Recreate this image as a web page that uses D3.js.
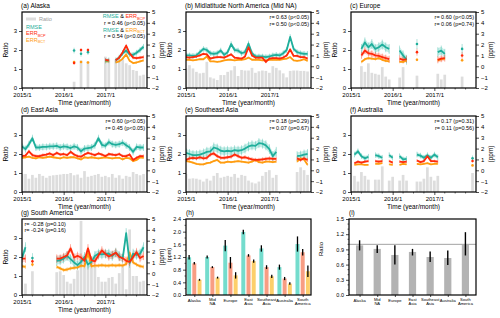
<!DOCTYPE html>
<html><head><meta charset="utf-8">
<script src="https://cdn.jsdelivr.net/npm/d3@7"></script>
<style>
body{margin:0;background:#fff;}
svg{display:block;font-family:"Liberation Sans",Arial,sans-serif;}
</style></head><body>
<svg id="c" width="500" height="318"></svg>
<script>
const N = null;
// ---------- shared labels ----------
const monthTicks = [0, 12, 24];
const monthTickLabels = ["2015/1", "2016/1", "2017/1"];
const ratioTicks = [0, 1, 2, 3];
const ppmTicks = [-2, -1, 0, 1, 2, 3, 4, 5];
const panelTitles = ["(a) Alaska", "(b) Midlatitude North America (Mid NA)", "(c) Europe", "(d) East Asia", "(e) Southeast Asia", "(f) Australia", "(g) South America"];
const corrBCP = ["r = 0.46 (p<0.05)", "r= 0.63 (p<0.05)", "r= 0.60 (p<0.05)", "r= 0.60 (p<0.05)", "r= 0.18 (p=0.29)", "r= 0.17 (p=0.31)", "r= -0.28 (p=0.10)"];
const corrBCT = ["r = 0.54 (p<0.05)", "r= 0.50 (p<0.05)", "r= 0.06 (p=0.74)", "r= 0.45 (p<0.05)", "r= 0.07 (p=0.67)", "r= 0.11 (p=0.56)", "r= -0.24 (p=0.16)"];
// estimated half-width of shaded uncertainty per panel
const rmseSpread = [0.2, 0.2, 0.35, 0.25, 0.35, 0.2, 0.35];
const bcpSpread = [0.12, 0.1, 0.25, 0.12, 0.15, 0.1, 0.3];
const bctSpread = [0.08, 0.06, 0.1, 0.08, 0.08, 0.05, 0.15];

// ---------- (a) Alaska ----------
const alaskaRatio = [N,N,N,N,N,N,N,N,N,N,N,N,N,N,N,0.33,N,1.45,N,1.4,N,N,N,N,1.65,1.5,N,1.5,1.45,1.5,1.3,1.2,0.95,0.9,0.65,0.7];
const alaskaRMSE  = [N,N,N,N,N,N,N,N,N,N,N,N,N,N,N,1.45,N,1.15,N,1.3,N,N,N,N,0.5,0.55,N,0.55,0.8,1.2,1.45,1.1,1.05,1.25,1.5,1.8];
const alaskaBCP   = [N,N,N,N,N,N,N,N,N,N,N,N,N,N,N,0.3,N,1.5,N,1.5,N,N,N,N,0.6,0.55,N,0.55,0.8,1.3,1.9,1.2,0.8,0.75,0.8,0.85];
const alaskaBCT   = [N,N,N,N,N,N,N,N,N,N,N,N,N,N,N,0.4,N,0.4,N,0.35,N,N,N,N,0.45,0.45,N,0.35,0.45,0.7,1.1,0.5,0.3,0.35,0.45,0.55];
// ---------- (b) Mid NA ----------
const midnaRatio = [1.03,1.2,1.03,0.85,0.77,0.8,1.38,0.56,0.5,0.42,0.68,0.68,0.85,0.93,1.15,0.63,0.95,0.92,0.92,1.06,0.8,0.88,0.92,0.9,0.8,1.15,1.06,0.93,0.77,0.56,0.9,0.92,0.92,0.9,0.9,0.87];
const midnaRMSE  = [1.0,1.0,0.95,1.0,1.3,1.6,1.5,1.2,1.15,1.2,1.45,1.05,1.3,2.05,1.5,1.45,1.2,1.3,2.1,1.2,0.9,0.9,0.9,0.85,0.9,1.0,1.05,1.0,1.2,1.5,2.7,1.6,1.3,1.2,1.15,1.15];
const midnaBCP   = [0.85,0.8,0.85,0.9,1.0,1.15,1.1,0.7,0.8,0.85,0.85,0.8,0.95,1.1,0.8,0.75,0.7,0.9,1.75,1.0,0.8,0.8,0.8,0.4,0.7,0.75,0.75,0.7,0.8,1.0,1.55,0.95,0.95,0.85,0.85,0.7];
const midnaBCT   = [0.6,0.6,0.55,0.6,0.65,0.65,0.9,0.45,0.45,0.4,0.45,0.55,0.6,0.6,0.55,0.6,0.6,0.65,0.8,0.6,0.6,0.6,0.55,0.55,0.6,0.6,0.6,0.6,0.65,0.7,0.85,0.55,0.5,0.55,0.65,0.5];
// ---------- (c) Europe ----------
const europeRatio = [N,N,N,1.15,0.85,1.3,0.8,0.75,0.7,1.1,0.6,0.45,N,N,0.55,1.1,N,N,N,0.65,N,N,N,N,N,0.75,0.45,0.7,N,N,N,N,0.6,N,N,N];
const europeRMSE  = [N,N,N,1.6,2.2,1.75,2.05,1.6,1.75,2.0,1.75,1.6,N,N,1.45,1.0,0.6,N,N,2.05,N,N,N,N,N,1.3,1.45,1.15,N,N,N,N,1.6,N,N,N];
const europeBCP   = [N,N,N,1.0,1.45,1.2,1.15,1.0,0.95,0.85,0.75,0.65,N,N,0.7,0.6,0.65,N,N,1.3,N,N,N,N,N,0.6,0.7,0.75,N,N,N,N,1.0,N,N,N];
const europeBCT   = [N,N,N,0.4,0.65,0.75,0.7,0.65,0.75,0.6,0.5,0.45,N,N,0.4,0.4,0.55,N,N,0.6,N,N,N,N,N,0.55,0.65,0.7,N,N,N,N,0.55,N,N,N];
// ---------- (d) East Asia ----------
const eastAsiaRatio = [0.95,0.95,0.7,0.9,0.75,0.95,0.85,0.75,0.85,0.88,0.9,0.92,0.95,0.95,1.0,0.88,0.92,0.75,1.1,0.8,0.85,0.9,0.95,0.8,0.85,0.78,0.95,0.75,0.88,0.7,0.85,0.8,1.05,0.95,0.88,0.95];
const eastAsiaRMSE  = [2.2,1.95,2.4,2.95,2.1,2.1,2.15,2.15,2.2,2.2,2.25,2.1,2.2,2.15,2.05,2.2,2.1,1.75,2.0,2.05,2.1,2.3,2.95,2.35,2.25,2.6,2.4,2.35,2.4,2.55,2.3,2.1,1.7,2.15,2.1,2.1];
const eastAsiaBCP   = [1.3,1.35,1.75,1.4,1.3,1.3,1.4,1.45,1.55,1.4,1.6,1.45,1.5,1.4,1.7,1.45,1.3,1.25,1.45,1.6,1.5,1.4,1.55,1.45,1.3,1.5,1.45,1.4,1.5,1.3,1.3,1.45,0.95,1.15,1.3,1.3];
const eastAsiaBCT   = [1.15,1.2,1.25,1.15,1.1,1.2,1.15,1.2,1.25,1.2,1.15,1.1,1.2,1.15,1.2,1.2,1.1,1.0,1.2,1.15,1.2,1.15,1.1,1.15,1.2,1.15,1.1,1.15,1.15,1.0,1.15,1.1,0.85,0.95,1.2,1.15];
// ---------- (e) Southeast Asia ----------
const seAsiaRatio = [0.95,0.7,0.72,0.7,0.65,0.55,0.7,0.6,0.85,1.0,0.75,0.8,0.85,0.8,0.95,0.75,0.9,0.85,0.6,0.5,0.45,0.55,0.85,1.05,1.15,0.75,0.9,N,N,N,N,N,1.05,1.3,1.15,0.9];
const seAsiaRMSE  = [1.6,1.5,1.4,1.4,1.45,1.55,1.7,1.75,2.1,2.0,1.8,1.75,1.8,1.75,1.85,1.8,1.85,2.0,2.2,2.3,2.25,2.5,2.45,2.3,1.95,1.3,1.7,N,N,N,N,N,1.3,1.35,1.45,1.5];
const seAsiaBCP   = [0.95,1.1,1.15,1.1,1.2,1.1,1.15,1.45,1.55,1.3,1.15,1.15,1.2,1.25,1.45,1.3,1.15,1.2,1.1,1.0,0.95,0.95,1.0,1.05,1.1,1.05,1.05,N,N,N,N,N,1.1,0.95,1.1,0.95];
const seAsiaBCT   = [0.85,0.8,0.7,0.6,0.55,0.55,0.65,0.7,0.85,0.95,0.7,0.7,0.8,0.75,0.8,0.85,0.8,0.75,0.7,0.8,0.95,0.75,0.7,0.8,0.8,0.75,0.8,N,N,N,N,N,0.8,1.1,1.0,0.5];
// ---------- (f) Australia ----------
const australiaRatio = [N,0.85,0.55,1.05,0.85,0.65,N,0.65,0.65,1.35,N,0.6,0.8,N,0.6,0.9,0.6,N,N,0.55,0.55,0.7,1.3,0.8,0.6,0.85,N,N,N,N,N,N,N,N,N,1.0];
const australiaRMSE  = [N,1.45,1.75,1.3,1.1,1.25,N,1.4,1.3,1.15,N,1.4,1.15,N,1.3,1.0,1.05,N,N,1.45,1.35,1.15,1.4,1.15,1.45,1.2,N,N,N,N,N,N,N,N,N,1.1];
const australiaBCP   = [N,0.65,0.8,0.7,0.8,0.85,N,0.85,0.8,0.85,N,0.85,0.7,N,0.8,0.75,0.8,N,N,0.9,0.75,0.85,1.3,0.85,0.85,0.8,N,N,N,N,N,N,N,N,N,0.85];
const australiaBCT   = [N,0.5,0.55,0.55,0.5,0.5,N,0.6,0.6,0.65,N,0.55,0.5,N,0.5,0.6,0.55,N,N,0.6,0.55,0.6,0.65,0.55,0.6,0.6,N,N,N,N,N,N,N,N,N,0.45];
// ---------- (g) South America ----------
const sAmericaRatio = [N,0.6,N,1.25,N,N,N,N,N,N,1.2,1.25,1.05,0.7,0.6,0.85,1.3,3.9,1.7,1.55,1.9,1.5,0.95,0.7,0.7,0.9,0.95,0.6,1.15,1.6,0.3,3.45,1.0,1.0,0.7,0.75];
const sAmericaRMSE  = [1.4,2.4,N,1.4,N,N,N,N,N,N,1.15,1.2,1.35,1.6,1.3,1.0,0.75,1.05,1.5,0.8,1.05,1.6,1.8,1.75,1.8,1.8,1.6,1.9,1.6,1.35,3.7,0.95,1.8,1.7,1.8,2.4];
const sAmericaBCP   = [1.35,1.35,N,1.1,N,N,N,N,N,N,1.35,1.35,1.5,1.65,2.3,1.45,1.6,1.45,1.15,2.3,1.2,1.1,1.65,2.1,1.8,1.55,1.7,1.9,1.5,1.4,1.15,1.05,1.5,1.95,1.4,1.6];
const sAmericaBCT   = [0.65,0.6,N,0.8,N,N,N,N,N,N,0.6,0.45,0.3,0.35,0.45,0.5,0.55,0.7,0.65,1.85,0.65,0.7,0.7,0.75,0.7,0.7,0.75,0.7,0.75,0.7,0.85,1.9,1.0,0.8,0.65,0.6];

// ---------- (h) & (i) ----------
const regions = ["Alaska", "Mid NA", "Europe", "East Asia", "Southeast Asia", "Australia", "South America"];
const rmseMean = [1.19, 1.2, 1.56, 1.99, 1.47, 0.88, 1.61];
const rmseErr  = [0.07, 0.05, 0.18, 0.07, 0.1, 0.08, 0.24];
const bcpMean  = [1.0, 0.88, 1.02, 1.25, 0.88, 0.52, 1.35];
const bcpErr   = [0.04, 0.03, 0.18, 0.04, 0.06, 0.05, 0.1];
const bctMean  = [0.48, 0.55, 0.62, 1.07, 0.59, 0.36, 0.75];
const bctErr   = [0.03, 0.03, 0.1, 0.05, 0.05, 0.04, 0.18];
const hTicks = [0, 0.4, 0.8, 1.2, 1.6, 2.0, 2.4];
const ratioMean = [0.98, 0.91, 0.79, 0.85, 0.75, 0.73, 0.99];
const ratioLow  = [0.88, 0.83, 0.6, 0.78, 0.65, 0.59, 0.78];
const ratioHigh = [1.08, 0.98, 0.98, 0.91, 0.86, 0.88, 1.24];
const iTicks = [0, 0.3, 0.6, 0.9, 1.2, 1.5];

// ---------- layout ----------
const svg = d3.select("#c");
const FONT = "Liberation Sans, Arial, sans-serif";
const W = 125, H = 76;
const colX = [22, 186, 351], rowY = [12, 116, 219];
const months = d3.range(36);
const C = {rmse: "#1fae9b", bcp: "#ff2a0a", bct: "#ff9c10"};
const CB = {rmse: "#7fd9cc", bcp: "#ff9d8f", bct: "#ffd080"};

const panels = [
  {ratio: alaskaRatio, rmse: alaskaRMSE, bcp: alaskaBCP, bct: alaskaBCT, col: 0, row: 0},
  {ratio: midnaRatio, rmse: midnaRMSE, bcp: midnaBCP, bct: midnaBCT, col: 1, row: 0},
  {ratio: europeRatio, rmse: europeRMSE, bcp: europeBCP, bct: europeBCT, col: 2, row: 0},
  {ratio: eastAsiaRatio, rmse: eastAsiaRMSE, bcp: eastAsiaBCP, bct: eastAsiaBCT, col: 0, row: 1},
  {ratio: seAsiaRatio, rmse: seAsiaRMSE, bcp: seAsiaBCP, bct: seAsiaBCT, col: 1, row: 1},
  {ratio: australiaRatio, rmse: australiaRMSE, bcp: australiaBCP, bct: australiaBCT, col: 2, row: 1},
  {ratio: sAmericaRatio, rmse: sAmericaRMSE, bcp: sAmericaBCP, bct: sAmericaBCT, col: 0, row: 2}
];

function styleAxis(sel, fs) {
  sel.select(".domain").remove();
  sel.attr("font-family", FONT);
  sel.selectAll(".tick line").attr("stroke", "#000").attr("stroke-width", 0.7);
  sel.selectAll(".tick text").attr("font-size", fs).attr("fill", "#000");
}

function text(x, y, s, opt = {}) {
  const t = svg.append("text").attr("x", x).attr("y", y).attr("font-size", opt.fs || 6)
    .attr("fill", opt.fill || "#000").attr("text-anchor", opt.anchor || "start").attr("font-family", FONT).text(s);
  if (opt.rot) t.attr("transform", `rotate(${opt.rot},${x},${y})`);
  return t;
}

function errText(x, y, sub, color, fs, anchor) {
  const t = svg.append("text").attr("x", x).attr("y", y).attr("font-size", fs).attr("fill", color)
    .attr("font-family", FONT).attr("text-anchor", anchor || "start");
  t.append("tspan").text("ERR");
  t.append("tspan").attr("font-size", fs * 0.7).attr("dy", 1.5).text(sub);
  return t;
}

panels.forEach((p, i) => {
  const x0 = colX[p.col], y0 = rowY[p.row];
  const x = d3.scaleLinear().domain([0, 36]).range([x0, x0 + W]);
  const yL = d3.scaleLinear().domain([0, 4]).range([y0 + H, y0]);
  const yR = d3.scaleLinear().domain([-2, 5]).range([y0 + H, y0]);
  const cid = "clip" + i;
  svg.append("clipPath").attr("id", cid).append("rect").attr("x", x0).attr("y", y0).attr("width", W).attr("height", H);
  const g = svg.append("g").attr("clip-path", `url(#${cid})`);

  // ratio bars
  g.selectAll("rect.bar").data(months.filter(m => p.ratio[m] != null)).join("rect")
    .attr("x", m => x(m) - 1.35).attr("width", 2.7)
    .attr("y", m => yL(p.ratio[m])).attr("height", m => yL(0) - yL(p.ratio[m]))
    .attr("fill", "#dddddd");

  const spreads = {rmse: rmseSpread[i], bcp: bcpSpread[i], bct: bctSpread[i]};
  const keys = ["bct", "rmse", "bcp"];
  // bands
  keys.forEach(k => {
    const arr = p[k], s = spreads[k];
    const area = d3.area().defined(m => arr[m] != null).x(m => x(m))
      .y0(m => yR(arr[m] - s)).y1(m => yR(arr[m] + s));
    g.append("path").datum(months).attr("d", area).attr("fill", CB[k]).attr("opacity", 0.45);
  });
  // error bars
  keys.forEach(k => {
    const arr = p[k], s = spreads[k] * 1.3;
    g.selectAll(null).data(months.filter(m => arr[m] != null)).join("line")
      .attr("x1", m => x(m)).attr("x2", m => x(m))
      .attr("y1", m => yR(arr[m] - s)).attr("y2", m => yR(arr[m] + s))
      .attr("stroke", C[k]).attr("stroke-width", 0.6).attr("opacity", 0.6);
  });
  // lines + isolated markers
  keys.forEach(k => {
    const arr = p[k];
    const line = d3.line().defined(m => arr[m] != null).x(m => x(m)).y(m => yR(arr[m]));
    g.append("path").datum(months).attr("d", line).attr("fill", "none")
      .attr("stroke", C[k]).attr("stroke-width", 1.8).attr("stroke-linejoin", "round");
    const iso = months.filter(m => arr[m] != null && (m === 0 || arr[m - 1] == null) && (m === 35 || arr[m + 1] == null));
    g.selectAll(null).data(iso).join("circle").attr("cx", m => x(m)).attr("cy", m => yR(arr[m]))
      .attr("r", 1.3).attr("fill", C[k]);
  });

  // axes
  const ax = svg.append("g").attr("transform", `translate(${x0},0)`)
    .call(d3.axisLeft(yL).tickValues(ratioTicks).tickSize(3).tickPadding(2).tickFormat(d3.format("d")));
  styleAxis(ax, 6);
  const ar = svg.append("g").attr("transform", `translate(${x0 + W},0)`)
    .call(d3.axisRight(yR).tickValues(ppmTicks).tickSize(3).tickPadding(2).tickFormat(d3.format("d")));
  styleAxis(ar, 6);
  const ab = svg.append("g").attr("transform", `translate(0,${y0 + H})`)
    .call(d3.axisBottom(x).tickValues(monthTicks).tickSize(3).tickPadding(2).tickFormat((d, j) => monthTickLabels[j]));
  styleAxis(ab, 6);
  // minor month ticks
  svg.append("g").selectAll("line").data(d3.range(0, 36, 3).filter(m => m % 12 !== 0)).join("line")
    .attr("x1", m => x(m)).attr("x2", m => x(m)).attr("y1", y0 + H).attr("y2", y0 + H + 1.5)
    .attr("stroke", "#000").attr("stroke-width", 0.6);
  // frame
  svg.append("rect").attr("x", x0).attr("y", y0).attr("width", W).attr("height", H)
    .attr("fill", "none").attr("stroke", "#000").attr("stroke-width", 1.2);

  // labels
  text(x0 - 1, y0 - 4, panelTitles[i], {fs: 6.5});
  text(x0 + W / 2, y0 + H + 17, "Time (year/month)", {fs: 6.5, anchor: "middle"});
  text(x0 - 14, y0 + H / 2, "Ratio", {fs: 6.5, anchor: "middle", rot: -90});
  text(x0 + W + 17, y0 + H / 2, "(ppm)", {fs: 6.5, anchor: "middle", rot: -90});

  if (i === 0) {
    // legend of panel (a)
    svg.append("rect").attr("x", x0 + 4).attr("y", y0 + 5.5).attr("width", 10).attr("height", 3).attr("fill", "#dddddd");
    text(x0 + 17, y0 + 9, "Ratio", {fs: 5.5, fill: "#9a9a9a"});
    text(x0 + 4, y0 + 16.5, "RMSE", {fs: 5.5, fill: C.rmse});
    errText(x0 + 4, y0 + 23, "BCP", C.bcp, 5.5);
    errText(x0 + 4, y0 + 29.5, "BCT", C.bct, 5.5);
    // right block
    const t1 = svg.append("text").attr("x", x0 + W - 2).attr("y", y0 + 6).attr("font-size", 5.5)
      .attr("text-anchor", "end").attr("font-family", FONT);
    t1.append("tspan").attr("fill", C.rmse).text("RMSE");
    t1.append("tspan").attr("fill", "#000").text(" & ");
    t1.append("tspan").attr("fill", C.bcp).text("ERR");
    t1.append("tspan").attr("fill", C.bcp).attr("font-size", 3.9).attr("dy", 1.5).text("BCP");
    text(x0 + W - 2, y0 + 13, corrBCP[i], {fs: 5.5, anchor: "end"});
    const t2 = svg.append("text").attr("x", x0 + W - 2).attr("y", y0 + 19.5).attr("font-size", 5.5)
      .attr("text-anchor", "end").attr("font-family", FONT);
    t2.append("tspan").attr("fill", C.rmse).text("RMSE");
    t2.append("tspan").attr("fill", "#000").text(" & ");
    t2.append("tspan").attr("fill", C.bct).text("ERR");
    t2.append("tspan").attr("fill", C.bct).attr("font-size", 3.9).attr("dy", 1.5).text("BCT");
    text(x0 + W - 2, y0 + 26, corrBCT[i], {fs: 5.5, anchor: "end"});
  } else if (i === 6) {
    text(x0 + 2.5, y0 + 7, corrBCP[i], {fs: 5.5});
    text(x0 + 2.5, y0 + 12.5, corrBCT[i], {fs: 5.5});
  } else {
    text(x0 + W - 2, y0 + 7, corrBCP[i], {fs: 5.5, anchor: "end"});
    text(x0 + W - 2, y0 + 13.5, corrBCT[i], {fs: 5.5, anchor: "end"});
  }
});

function groupLabels(x, yBase, fs) {
  regions.forEach(r => {
    const parts = r.split(" ");
    if (parts.length === 1) text(x(r), yBase + 6.5, r, {fs: fs, anchor: "middle"});
    else parts.forEach((s, k) => text(x(r), yBase + 5.5 + k * 4.6, s, {fs: fs, anchor: "middle"}));
  });
}

// ---------- panel (h) ----------
(function () {
  const x0 = 186, y0 = 219, w = 125;
  const x = d3.scalePoint().domain(regions).range([x0, x0 + w]).padding(0.46);
  const y = d3.scaleLinear().domain([0, 2.4]).range([y0 + H, y0]);
  const sets = [
    {mean: rmseMean, err: rmseErr, color: "#74dccd", off: -5.2},
    {mean: bcpMean, err: bcpErr, color: "#f89d83", off: 0},
    {mean: bctMean, err: bctErr, color: "#fdcf6b", off: 5.2}
  ];
  sets.forEach(s => {
    svg.append("g").selectAll("rect").data(regions).join("rect")
      .attr("x", (d, j) => x(d) + s.off - 2).attr("width", 4)
      .attr("y", (d, j) => y(s.mean[j])).attr("height", (d, j) => y(0) - y(s.mean[j]))
      .attr("fill", s.color);
  });
  sets.forEach(s => {
    svg.append("g").selectAll("line").data(regions).join("line")
      .attr("x1", d => x(d) + s.off).attr("x2", d => x(d) + s.off)
      .attr("y1", (d, j) => y(s.mean[j] - s.err[j])).attr("y2", (d, j) => y(s.mean[j] + s.err[j]))
      .attr("stroke", "#000").attr("stroke-width", 1.3);
  });
  const ay = svg.append("g").attr("transform", `translate(${x0},0)`)
    .call(d3.axisLeft(y).tickValues(hTicks).tickSize(3).tickPadding(2).tickFormat(d3.format(".1f")));
  styleAxis(ay, 5.5);
  svg.append("g").selectAll("line").data(d3.range(0.2, 2.4, 0.4)).join("line")
    .attr("x1", x0).attr("x2", x0 - 1.5).attr("y1", d => y(d)).attr("y2", d => y(d))
    .attr("stroke", "#000").attr("stroke-width", 0.6);
  const axb = svg.append("g").attr("transform", `translate(0,${y0 + H})`)
    .call(d3.axisBottom(x).tickSize(2).tickFormat(""));
  styleAxis(axb, 5);
  groupLabels(x, y0 + H, 4.3);
  svg.append("rect").attr("x", x0).attr("y", y0).attr("width", w).attr("height", H)
    .attr("fill", "none").attr("stroke", "#000").attr("stroke-width", 1.2);
  text(x0, y0 - 4, "(h)", {fs: 6.5});
  text(x0 - 15, y0 + H / 2 - 2, "(ppm)", {fs: 5.5, anchor: "middle", rot: -90});
})();

// ---------- panel (i) ----------
(function () {
  const x0 = 349, y0 = 219, w = 127;
  const x = d3.scalePoint().domain(regions).range([x0, x0 + w]).padding(0.6);
  const y = d3.scaleLinear().domain([0, 1.5]).range([y0 + H, y0]);
  svg.append("g").selectAll("rect").data(regions).join("rect")
    .attr("x", d => x(d) - 3.6).attr("width", 7.2)
    .attr("y", (d, j) => y(ratioMean[j])).attr("height", (d, j) => y(0) - y(ratioMean[j]))
    .attr("fill", "#b3b3b3");
  svg.append("line").attr("x1", x0).attr("x2", x0 + w).attr("y1", y(1)).attr("y2", y(1))
    .attr("stroke", "#8a8a8a").attr("stroke-width", 0.8);
  svg.append("g").selectAll("line").data(regions).join("line")
    .attr("x1", d => x(d)).attr("x2", d => x(d))
    .attr("y1", (d, j) => y(ratioLow[j])).attr("y2", (d, j) => y(ratioHigh[j]))
    .attr("stroke", "#000").attr("stroke-width", 1.4);
  const ay = svg.append("g").attr("transform", `translate(${x0},0)`)
    .call(d3.axisLeft(y).tickValues(iTicks).tickSize(3).tickPadding(2).tickFormat(d3.format(".1f")));
  styleAxis(ay, 5.5);
  svg.append("g").selectAll("line").data(d3.range(0.1, 1.5, 0.1).filter(v => Math.abs(v / 0.3 - Math.round(v / 0.3)) > 0.01)).join("line")
    .attr("x1", x0).attr("x2", x0 - 1.5).attr("y1", d => y(d)).attr("y2", d => y(d))
    .attr("stroke", "#000").attr("stroke-width", 0.6);
  const axb = svg.append("g").attr("transform", `translate(0,${y0 + H})`)
    .call(d3.axisBottom(x).tickSize(2).tickFormat(""));
  styleAxis(axb, 5);
  groupLabels(x, y0 + H, 4.1);
  svg.append("rect").attr("x", x0).attr("y", y0).attr("width", w).attr("height", H)
    .attr("fill", "none").attr("stroke", "#000").attr("stroke-width", 1.2);
  text(x0, y0 - 4, "(i)", {fs: 6.5});
  text(x0 - 26, y0 + H / 2 - 8, "Ratio", {fs: 6, anchor: "middle", rot: -90});
})();
</script>
</body></html>
